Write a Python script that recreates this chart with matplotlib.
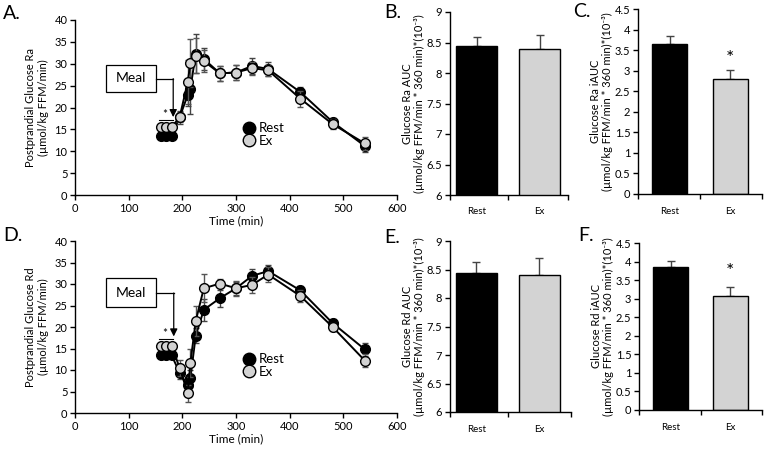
import matplotlib
matplotlib.use("Agg")
import matplotlib.pyplot as plt
from matplotlib.lines import Line2D
from matplotlib.patches import Rectangle
from matplotlib.ticker import FuncFormatter

plt.rcParams['font.family'] = ['Lato', 'DejaVu Sans']

# ---------------- data ----------------
time = [160, 170, 180, 195, 210, 215, 225, 240, 270, 300, 330, 360, 420, 480, 540]

ra_rest = [13.5, 13.5, 13.5, 17.8, 22.8, 24.3, 32.3, 31.1, 27.8, 28.0, 29.5, 28.8, 23.5, 16.7, 11.2]
ra_rest_err = [0.5, 0.5, 0.5, 1.5, 2.5, 5.8, 4.5, 2.5, 1.8, 1.8, 1.8, 1.5, 1.2, 1.0, 1.3]
ra_ex = [15.5, 15.5, 15.5, 17.8, 25.8, 30.1, 31.8, 30.6, 27.8, 28.0, 29.0, 28.5, 22.0, 16.2, 11.8]
ra_ex_err = [0.6, 0.6, 0.6, 1.2, 5.0, 5.5, 4.0, 2.5, 1.8, 1.8, 1.5, 1.2, 1.8, 1.2, 1.5]

rd_rest = [13.4, 13.4, 13.4, 9.4, 6.4, 8.1, 18.0, 24.0, 26.7, 29.0, 31.9, 33.0, 28.5, 20.9, 14.8]
rd_rest_err = [0.3, 0.3, 0.3, 1.5, 1.3, 2.0, 1.8, 2.5, 2.0, 1.5, 1.5, 1.5, 1.0, 1.0, 1.5]
rd_ex = [15.6, 15.6, 15.6, 10.5, 4.6, 11.6, 21.4, 29.0, 30.1, 29.0, 29.8, 32.2, 27.2, 20.0, 12.2]
rd_ex_err = [0.5, 0.5, 0.5, 1.8, 2.0, 3.2, 3.6, 3.3, 1.0, 1.8, 1.8, 1.8, 1.5, 1.0, 1.5]

groups = ['Rest', 'Ex']
ra_auc = [8.45, 8.39]
ra_auc_err = [0.14, 0.24]
ra_iauc = [3.65, 2.80]
ra_iauc_err = [0.20, 0.22]
rd_auc = [8.44, 8.41]
rd_auc_err = [0.19, 0.29]
rd_iauc = [3.85, 3.08]
rd_iauc_err = [0.16, 0.23]

bar_colors = ['black', '#d3d3d3']

# ---------------- figure ----------------
W, H = 764, 450
fig = plt.figure(figsize=(W / 100, H / 100), dpi=100)


def ax_px(l, t, r, b):
    return fig.add_axes([l / W, 1 - b / H, (r - l) / W, (b - t) / H])


def style(ax):
    for s in ['top', 'right']:
        ax.spines[s].set_visible(False)
    for s in ['left', 'bottom']:
        ax.spines[s].set_linewidth(1.0)
    ax.tick_params(direction='out', length=3.5, width=1.0, labelsize=8, pad=2)


def line_panel(ax, rest, rest_e, ex, ex_e, ylabel, box, arrow_y, arrow_x, tip_y, star_y, line_y, leg_y):
    ax.errorbar(time, rest, yerr=rest_e, color='black', lw=1.4, marker='o', ms=7,
                mfc='black', mec='black', ecolor='#444444', elinewidth=1, capsize=2.5,
                capthick=1, zorder=3)
    ax.errorbar(time, ex, yerr=ex_e, color='black', lw=1.4, marker='o', ms=7,
                mfc='#d3d3d3', mec='black', mew=1, ecolor='#555555', elinewidth=1,
                capsize=2.5, capthick=1, zorder=4)
    ax.set_xlim(0, 600)
    ax.set_ylim(0, 40)
    ax.set_xticks(range(0, 601, 100))
    ax.set_yticks(range(0, 41, 5))
    style(ax)
    ax.set_xlabel('Time (min)', fontsize=8.5, labelpad=1)
    ax.set_ylabel(ylabel, fontsize=8, labelpad=4, linespacing=1.2)
    # meal box and arrow
    x0, x1, y0, y1 = box
    ax.add_patch(Rectangle((x0, y0), x1 - x0, y1 - y0, fill=False, ec='black', lw=0.9, zorder=5))
    ax.text((x0 + x1) / 2, (y0 + y1) / 2, 'Meal', ha='center', va='center', fontsize=10, zorder=6)
    ax.plot([x1, arrow_x], [arrow_y, arrow_y], color='black', lw=0.9)
    ax.annotate('', xy=(arrow_x, tip_y), xytext=(arrow_x, arrow_y),
                arrowprops=dict(arrowstyle='-|>', color='black', lw=0.9,
                                mutation_scale=11, shrinkA=0, shrinkB=0))
    ax.plot([157, 183], [line_y, line_y], color='black', lw=0.8)
    ax.text(167, star_y, '*', ha='center', va='center', fontsize=8.5)
    handles = [Line2D([], [], ls='none', marker='o', ms=9, mfc='black', mec='black'),
               Line2D([], [], ls='none', marker='o', ms=9, mfc='#d3d3d3', mec='black')]
    ax.legend(handles, ['Rest', 'Ex'], loc='center left', bbox_to_anchor=(0.52, leg_y),
              frameon=False, fontsize=9.5, handlelength=1.0, handletextpad=0.2,
              labelspacing=0.05, borderpad=0, borderaxespad=0)


def bar_panel(ax, vals, errs, ylim, yticks, ylabel, star=None, width=0.6, xlim=(-0.5, 1.5)):
    x = [0, 1]
    ax.bar(x, vals, width=width, color=bar_colors, edgecolor='black', linewidth=1,
           bottom=0, zorder=2)
    ax.errorbar(x, vals, yerr=[[0, 0], errs], fmt='none', ecolor='#444444',
                elinewidth=1, capsize=3, capthick=1, zorder=1)
    ax.set_ylim(*ylim)
    ax.set_xlim(*xlim)
    ax.set_yticks(yticks)
    ax.yaxis.set_major_formatter(FuncFormatter(lambda v, p: ('%g' % v)))
    style(ax)
    ax.set_xticks(x)
    ax.set_xticklabels(groups, fontsize=7)
    ax.tick_params(axis='x', length=0, pad=9)
    ax.set_xticks([xlim[0], 0.5, xlim[1]], minor=True)
    ax.tick_params(axis='x', which='minor', direction='out', length=3.5, width=1)
    ax.set_ylabel(ylabel, fontsize=8, labelpad=1.5, linespacing=1.05)
    if star is not None:
        ax.text(1, star, '*', ha='center', va='center', fontsize=14)


# Panel A
axA = ax_px(75, 20, 397, 195)
line_panel(axA, ra_rest, ra_rest_err, ra_ex, ra_ex_err,
           'Postprandial Glucose Ra\n(µmol/kg FFM/min)',
           box=(58, 150, 23.6, 29.7), arrow_y=26.6, arrow_x=183, tip_y=17.8,
           star_y=18.3, line_y=17.1, leg_y=0.345)

# Panel D
axD = ax_px(75, 241, 397, 413)
line_panel(axD, rd_rest, rd_rest_err, rd_ex, rd_ex_err,
           'Postprandial Glucose Rd\n(µmol/kg FFM/min)',
           box=(58, 150, 24.7, 31.3), arrow_y=27.9, arrow_x=184, tip_y=17.8,
           star_y=18.6, line_y=17.3, leg_y=0.275)

yt_auc = [6, 6.5, 7, 7.5, 8, 8.5, 9]
yt_iauc = [0, 0.5, 1, 1.5, 2, 2.5, 3, 3.5, 4, 4.5]

axB = ax_px(450, 12, 568, 195)
bar_panel(axB, ra_auc, ra_auc_err, (6, 9), yt_auc,
          'Glucose Ra AUC\n(µmol/kg FFM/min * 360 min)*(10⁻³)',
          width=0.65, xlim=(-0.42, 1.45))

axC = ax_px(638, 9, 762, 194)
bar_panel(axC, ra_iauc, ra_iauc_err, (0, 4.5), yt_iauc,
          'Glucose Ra iAUC\n(µmol/kg FFM/min * 360 min)*(10⁻³)',
          star=3.3, width=0.58, xlim=(-0.53, 1.53))

axE = ax_px(450, 241, 571, 412)
bar_panel(axE, rd_auc, rd_auc_err, (6, 9), yt_auc,
          'Glucose Rd AUC\n(µmol/kg FFM/min * 360 min)*(10⁻³)',
          width=0.65, xlim=(-0.42, 1.5))

axF = ax_px(639, 243, 762, 410)
bar_panel(axF, rd_iauc, rd_iauc_err, (0, 4.5), yt_iauc,
          'Glucose Rd iAUC\n(µmol/kg FFM/min * 360 min)*(10⁻³)',
          star=3.72, width=0.58, xlim=(-0.53, 1.53))

# Panel letters
for lab, x, y in [('A.', 3, 5), ('B.', 384, 4), ('C.', 573, 3),
                  ('D.', 3, 227), ('E.', 384, 229), ('F.', 578, 227)]:
    fig.text(x / W, 1 - y / H, lab, fontsize=14, ha='left', va='top')

fig.savefig('out.png', dpi=100)
